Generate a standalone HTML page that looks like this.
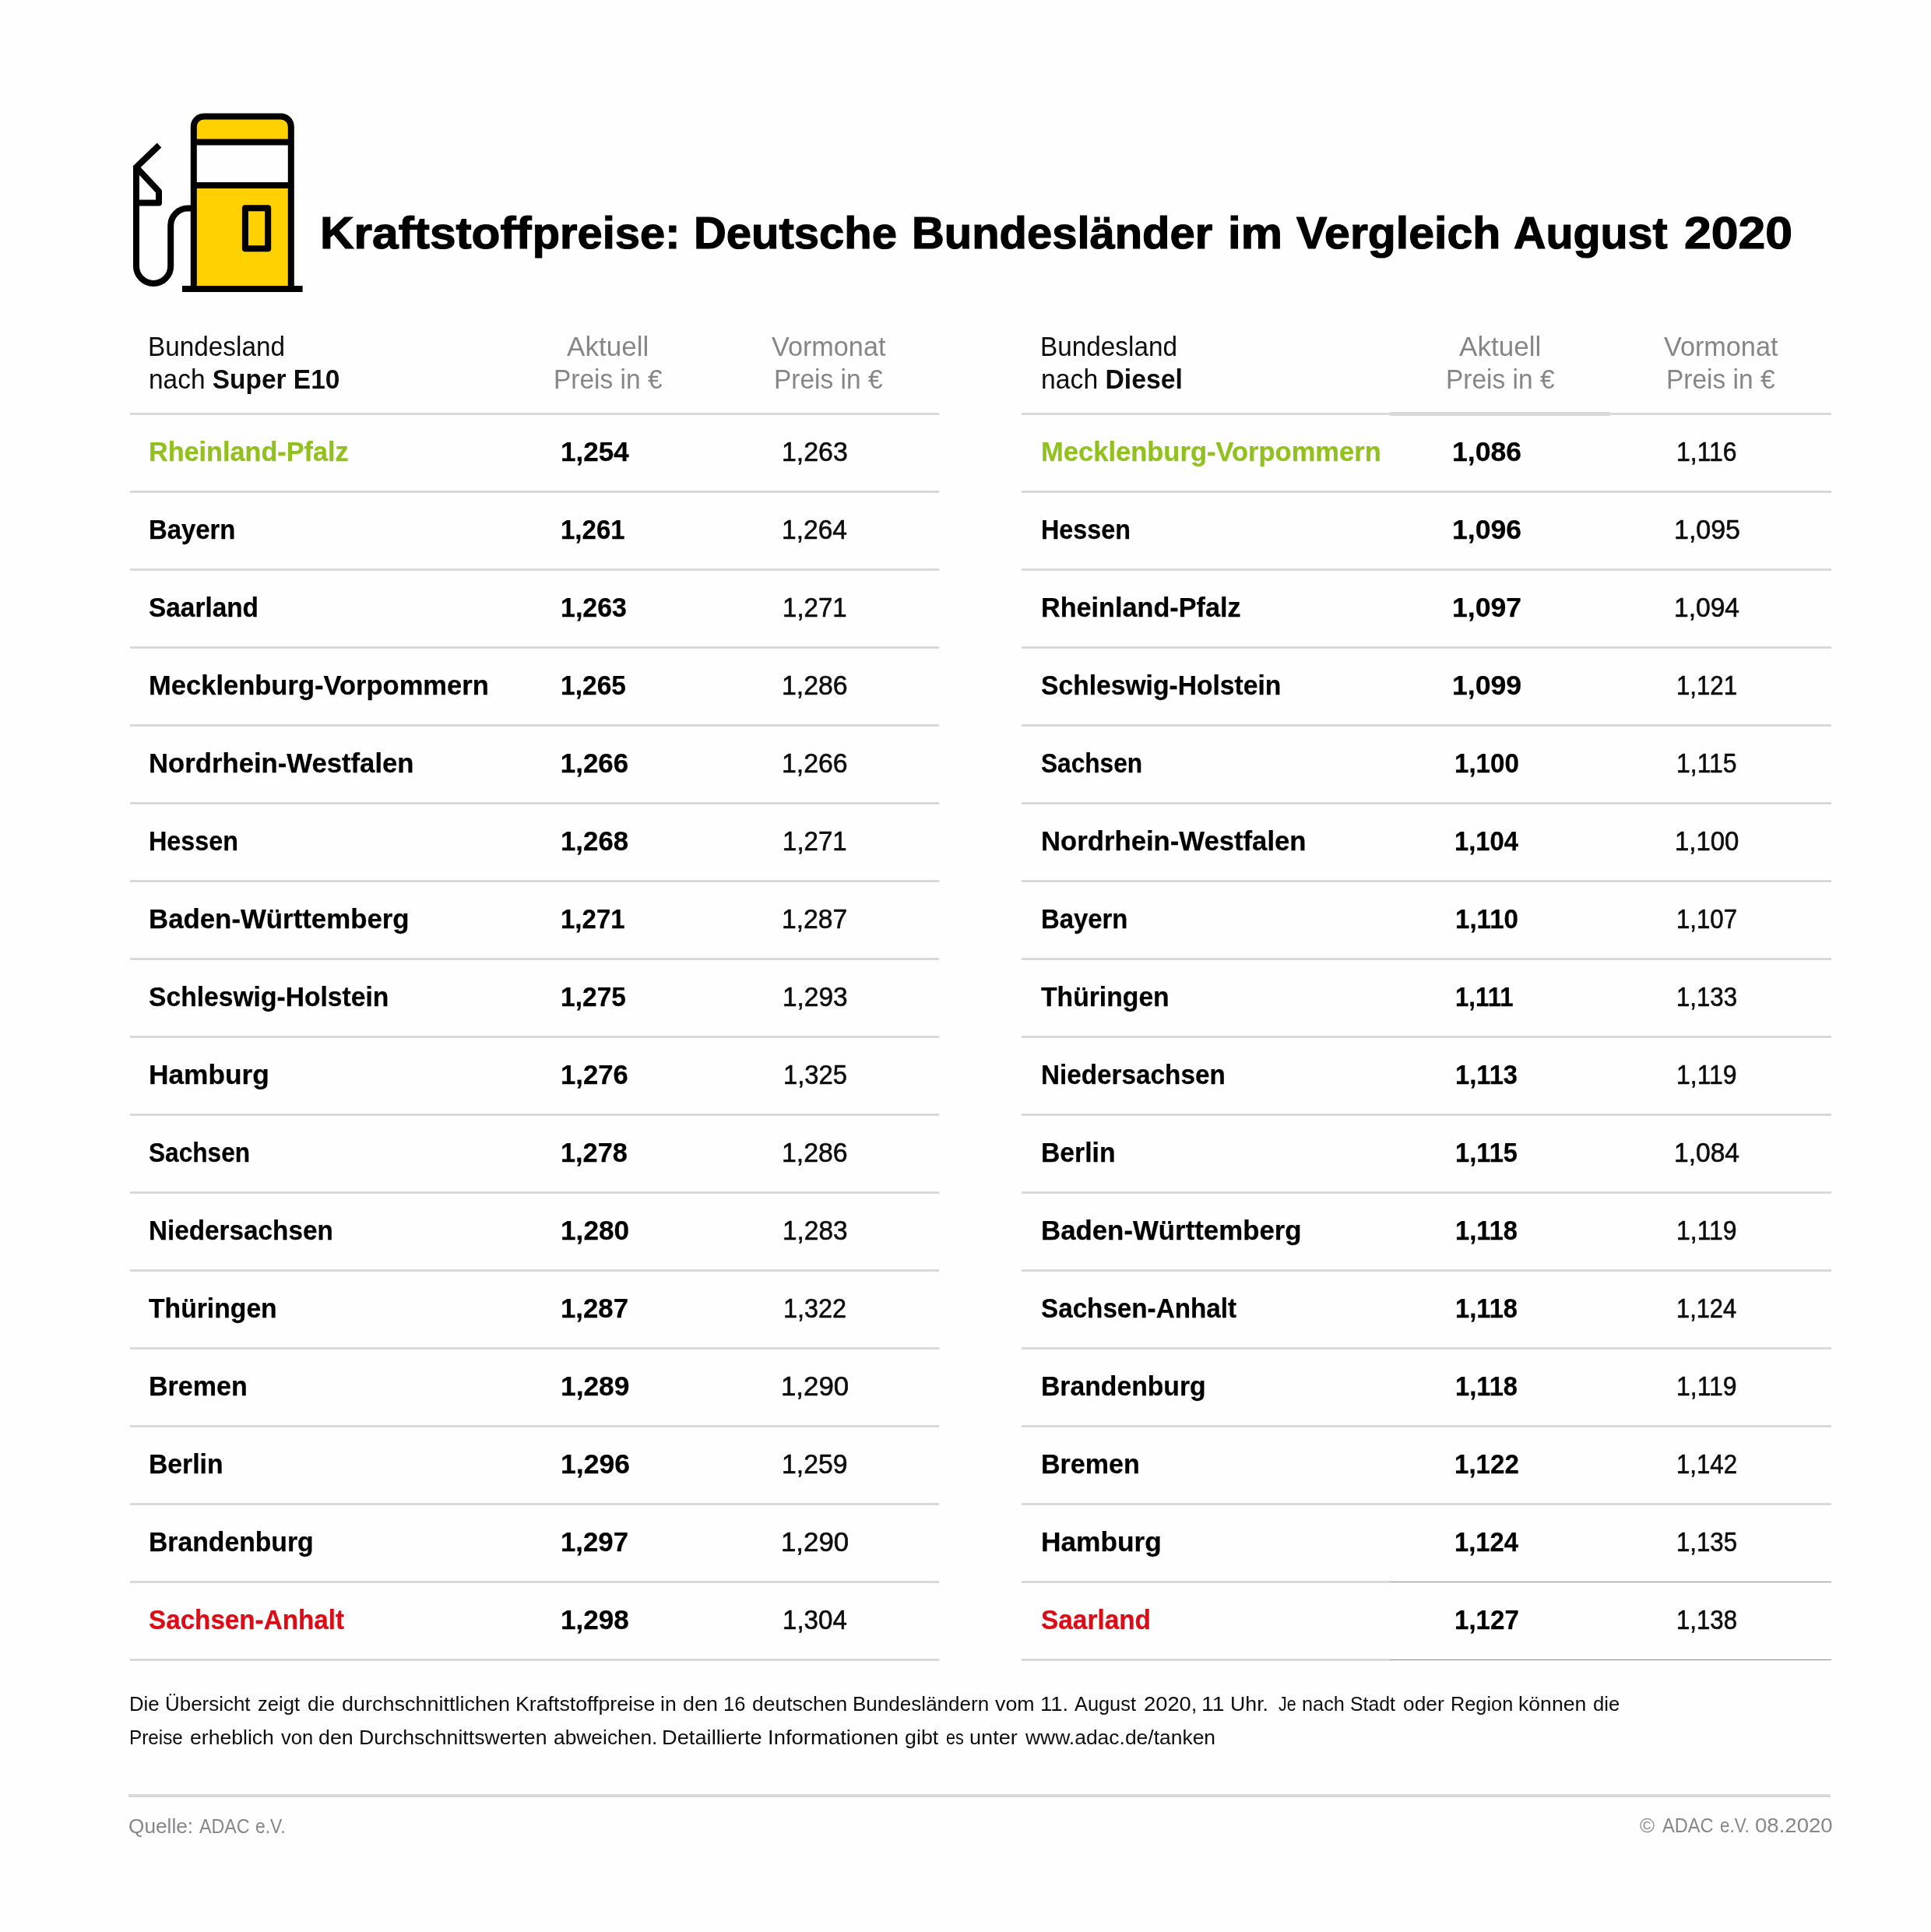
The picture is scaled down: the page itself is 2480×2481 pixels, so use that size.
<!DOCTYPE html>
<html lang="de"><head><meta charset="utf-8"><title>Kraftstoffpreise</title>
<style>
html,body{margin:0;padding:0;background:#fefefe}
body{width:2480px;height:2481px;position:relative;overflow:hidden;font-family:"Liberation Sans",sans-serif}
.t{position:absolute;white-space:nowrap;line-height:1;transform-origin:0 0}
.s35{font-size:35px}.s26{font-size:26px}.s58{font-size:58px}.s60{font-size:60px}
#tx{position:absolute;left:0;top:0;width:2480px;height:2481px;will-change:transform}
.b{font-weight:700}
.ln{position:absolute;height:3px;background:#d9d9d9}
.dk{position:absolute;height:1px;background:#8a8a8a}
</style></head><body>
<svg style="position:absolute;left:0;top:0" width="440" height="400" viewBox="0 0 440 400" fill="none" stroke="#000" stroke-width="8">
<path d="M248.8 371V162.5a13 13 0 0 1 13-13h99a13 13 0 0 1 13 13V371Z" fill="#ffd100" stroke="none"/>
<rect x="248.8" y="182.5" width="125" height="55.5" fill="#fefefe" stroke="none"/>
<path d="M248.8 371V162.5a13 13 0 0 1 13-13h99a13 13 0 0 1 13 13V371"/>
<path d="M248.8 182.5H373.8M248.8 238H373.8"/>
<path d="M234 371H388.6"/>
<rect x="314.9" y="267.2" width="29.3" height="52" stroke-linejoin="round"/>
<path d="M204.5 186.5L175 214.8V341.8a22.1 22.1 0 0 0 44.2 0V289.7a22.1 22.1 0 0 1 22.1-22.1H245" />
<path d="M175 214.8L204 245.8V260.6H175" stroke-linejoin="round"/>
</svg>

<div class="ln" style="left:166.7px;top:530px;width:1039.2px"></div>
<div class="ln" style="left:166.7px;top:630px;width:1039.2px"></div>
<div class="ln" style="left:166.7px;top:730px;width:1039.2px"></div>
<div class="ln" style="left:166.7px;top:830px;width:1039.2px"></div>
<div class="ln" style="left:166.7px;top:930px;width:1039.2px"></div>
<div class="ln" style="left:166.7px;top:1030px;width:1039.2px"></div>
<div class="ln" style="left:166.7px;top:1130px;width:1039.2px"></div>
<div class="ln" style="left:166.7px;top:1230px;width:1039.2px"></div>
<div class="ln" style="left:166.7px;top:1330px;width:1039.2px"></div>
<div class="ln" style="left:166.7px;top:1430px;width:1039.2px"></div>
<div class="ln" style="left:166.7px;top:1530px;width:1039.2px"></div>
<div class="ln" style="left:166.7px;top:1630px;width:1039.2px"></div>
<div class="ln" style="left:166.7px;top:1730px;width:1039.2px"></div>
<div class="ln" style="left:166.7px;top:1830px;width:1039.2px"></div>
<div class="ln" style="left:166.7px;top:1930px;width:1039.2px"></div>
<div class="ln" style="left:166.7px;top:2030px;width:1039.2px"></div>
<div class="ln" style="left:166.7px;top:2130px;width:1039.2px"></div>
<div class="ln" style="left:1312.2px;top:530px;width:1039.4px"></div>
<div class="ln" style="left:1312.2px;top:630px;width:1039.4px"></div>
<div class="ln" style="left:1312.2px;top:730px;width:1039.4px"></div>
<div class="ln" style="left:1312.2px;top:830px;width:1039.4px"></div>
<div class="ln" style="left:1312.2px;top:930px;width:1039.4px"></div>
<div class="ln" style="left:1312.2px;top:1030px;width:1039.4px"></div>
<div class="ln" style="left:1312.2px;top:1130px;width:1039.4px"></div>
<div class="ln" style="left:1312.2px;top:1230px;width:1039.4px"></div>
<div class="ln" style="left:1312.2px;top:1330px;width:1039.4px"></div>
<div class="ln" style="left:1312.2px;top:1430px;width:1039.4px"></div>
<div class="ln" style="left:1312.2px;top:1530px;width:1039.4px"></div>
<div class="ln" style="left:1312.2px;top:1630px;width:1039.4px"></div>
<div class="ln" style="left:1312.2px;top:1730px;width:1039.4px"></div>
<div class="ln" style="left:1312.2px;top:1830px;width:1039.4px"></div>
<div class="ln" style="left:1312.2px;top:1930px;width:1039.4px"></div>
<div class="ln" style="left:1312.2px;top:2030px;width:1039.4px"></div>
<div class="ln" style="left:1312.2px;top:2130px;width:1039.4px"></div>
<div class="ln" style="left:1784.5px;top:529px;width:283.5px;height:5px"></div>
<div style="position:absolute;left:1784.5px;top:2030px;width:568px;height:3px;background:#fefefe"></div>
<div class="dk" style="left:1784.5px;top:2031px;width:567.5px"></div>
<div style="position:absolute;left:1784.5px;top:2130px;width:568px;height:3px;background:#fefefe"></div>
<div class="dk" style="left:1784.5px;top:2131px;width:567.5px"></div>
<div class="ln" style="left:165px;top:2304px;width:2186px;height:4px"></div>
<div id="tx">
<div class="t s58 b" style="left:411.0px;top:269.8px;color:#000;transform:scaleX(1.0409);-webkit-text-stroke:1.2px #000">Kraftstoff<span style="display:inline-block;transform-origin:0 0;transform:scaleX(0.9581);margin-left:1.00px">preise:</span></div>
<div class="t s58 b" style="left:891.0px;top:269.8px;color:#000;transform:scaleX(0.9996);-webkit-text-stroke:1.2px #000">Deutsche</div>
<div class="t s58 b" style="left:1171.0px;top:269.8px;color:#000;transform:scaleX(0.9987);-webkit-text-stroke:1.2px #000">Bundesländer</div>
<div class="t s58 b" style="left:1577.2px;top:269.8px;color:#000;transform:scaleX(1.0323);-webkit-text-stroke:1.2px #000">im</div>
<div class="t s58 b" style="left:1665.1px;top:269.8px;color:#000;transform:scaleX(1.0169);-webkit-text-stroke:1.2px #000">Vergleich</div>
<div class="t s58 b" style="left:1944.2px;top:269.8px;color:#000;transform:scaleX(0.9889);-webkit-text-stroke:1.2px #000">August</div>
<div class="t s58 b" style="left:2162.8px;top:269.8px;color:#000;transform:scaleX(1.0778);-webkit-text-stroke:1.2px #000">2020</div>
<div class="t s35" style="left:190.2px;top:426.9px;color:#0d0d0d;transform:scaleX(0.9522)">Bundesland</div>
<div class="t s35" style="left:191.0px;top:468.9px;color:#0d0d0d;transform:scaleX(0.9553)">nach <b>Super E10</b></div>
<div class="t s35" style="left:727.8px;top:426.9px;color:#868686;transform:scaleX(1.0019)">Aktuell</div>
<div class="t s35" style="left:711.2px;top:468.9px;color:#868686;transform:scaleX(0.9563)">Preis in €</div>
<div class="t s35" style="left:990.6px;top:426.9px;color:#868686;transform:scaleX(0.9773)">Vormonat</div>
<div class="t s35" style="left:994.2px;top:468.9px;color:#868686;transform:scaleX(0.9563)">Preis in €</div>
<div class="t s35" style="left:1336.2px;top:426.9px;color:#0d0d0d;transform:scaleX(0.9522)">Bundesland</div>
<div class="t s35" style="left:1337.0px;top:468.9px;color:#0d0d0d;transform:scaleX(0.9636)">nach <b>Diesel</b></div>
<div class="t s35" style="left:1873.8px;top:426.9px;color:#868686;transform:scaleX(1.0019)">Aktuell</div>
<div class="t s35" style="left:1857.2px;top:468.9px;color:#868686;transform:scaleX(0.9563)">Preis in €</div>
<div class="t s35" style="left:2136.6px;top:426.9px;color:#868686;transform:scaleX(0.9773)">Vormonat</div>
<div class="t s35" style="left:2140.2px;top:468.9px;color:#868686;transform:scaleX(0.9563)">Preis in €</div>
<div class="t s35 b" style="left:191.0px;top:561.9px;color:#92c01f;transform:scaleX(0.9772);-webkit-text-stroke:0.25px #92c01f">Rheinland-Pfalz</div>
<div class="t s35 b" style="left:719.7px;top:561.9px;color:#000;transform:scaleX(1.0024);-webkit-text-stroke:0.25px #000">1,254</div>
<div class="t s35" style="left:1004.1px;top:561.9px;color:#0d0d0d;transform:scaleX(0.9679);-webkit-text-stroke:0.6px #0d0d0d">1,263</div>
<div class="t s35 b" style="left:191.1px;top:661.9px;color:#000;transform:scaleX(0.9391);-webkit-text-stroke:0.25px #000">Bayern</div>
<div class="t s35 b" style="left:719.8px;top:661.9px;color:#000;transform:scaleX(0.9435);-webkit-text-stroke:0.25px #000">1,261</div>
<div class="t s35" style="left:1004.0px;top:661.9px;color:#0d0d0d;transform:scaleX(0.9588);-webkit-text-stroke:0.6px #0d0d0d">1,264</div>
<div class="t s35 b" style="left:190.9px;top:761.9px;color:#000;transform:scaleX(0.9538);-webkit-text-stroke:0.25px #000">Saarland</div>
<div class="t s35 b" style="left:719.8px;top:761.9px;color:#000;transform:scaleX(0.9702);-webkit-text-stroke:0.25px #000">1,263</div>
<div class="t s35" style="left:1005.2px;top:761.9px;color:#0d0d0d;transform:scaleX(0.9440);-webkit-text-stroke:0.6px #0d0d0d">1,271</div>
<div class="t s35 b" style="left:191.0px;top:861.9px;color:#000;transform:scaleX(0.9866);-webkit-text-stroke:0.25px #000">Mecklenburg-Vorpommern</div>
<div class="t s35 b" style="left:719.8px;top:861.9px;color:#000;transform:scaleX(0.9588);-webkit-text-stroke:0.25px #000">1,265</div>
<div class="t s35" style="left:1004.2px;top:861.9px;color:#0d0d0d;transform:scaleX(0.9667);-webkit-text-stroke:0.6px #0d0d0d">1,286</div>
<div class="t s35 b" style="left:191.0px;top:961.9px;color:#000;transform:scaleX(0.9912);-webkit-text-stroke:0.25px #000">Nordrhein-Westfalen</div>
<div class="t s35 b" style="left:719.7px;top:961.9px;color:#000;transform:scaleX(1.0000);-webkit-text-stroke:0.25px #000">1,266</div>
<div class="t s35" style="left:1004.2px;top:961.9px;color:#0d0d0d;transform:scaleX(0.9667);-webkit-text-stroke:0.6px #0d0d0d">1,266</div>
<div class="t s35 b" style="left:191.2px;top:1061.8px;color:#000;transform:scaleX(0.9231);-webkit-text-stroke:0.25px #000">Hessen</div>
<div class="t s35 b" style="left:719.7px;top:1061.8px;color:#000;transform:scaleX(0.9953);-webkit-text-stroke:0.25px #000">1,268</div>
<div class="t s35" style="left:1005.2px;top:1061.8px;color:#0d0d0d;transform:scaleX(0.9440);-webkit-text-stroke:0.6px #0d0d0d">1,271</div>
<div class="t s35 b" style="left:191.0px;top:1161.8px;color:#000;transform:scaleX(0.9946);-webkit-text-stroke:0.25px #000">Baden-Württemberg</div>
<div class="t s35 b" style="left:719.8px;top:1161.8px;color:#000;transform:scaleX(0.9435);-webkit-text-stroke:0.25px #000">1,271</div>
<div class="t s35" style="left:1004.4px;top:1161.8px;color:#0d0d0d;transform:scaleX(0.9619);-webkit-text-stroke:0.6px #0d0d0d">1,287</div>
<div class="t s35 b" style="left:190.9px;top:1261.8px;color:#000;transform:scaleX(0.9607);-webkit-text-stroke:0.25px #000">Schleswig-Holstein</div>
<div class="t s35 b" style="left:719.8px;top:1261.8px;color:#000;transform:scaleX(0.9588);-webkit-text-stroke:0.25px #000">1,275</div>
<div class="t s35" style="left:1004.7px;top:1261.8px;color:#0d0d0d;transform:scaleX(0.9548);-webkit-text-stroke:0.6px #0d0d0d">1,293</div>
<div class="t s35 b" style="left:191.0px;top:1361.8px;color:#000;transform:scaleX(1.0080);-webkit-text-stroke:0.25px #000">Hamburg</div>
<div class="t s35 b" style="left:719.7px;top:1361.8px;color:#000;transform:scaleX(0.9917);-webkit-text-stroke:0.25px #000">1,276</div>
<div class="t s35" style="left:1005.5px;top:1361.8px;color:#0d0d0d;transform:scaleX(0.9369);-webkit-text-stroke:0.6px #0d0d0d">1,325</div>
<div class="t s35 b" style="left:191.0px;top:1461.8px;color:#000;transform:scaleX(0.9035);-webkit-text-stroke:0.25px #000">Sachsen</div>
<div class="t s35 b" style="left:719.7px;top:1461.8px;color:#000;transform:scaleX(0.9800);-webkit-text-stroke:0.25px #000">1,278</div>
<div class="t s35" style="left:1004.2px;top:1461.8px;color:#0d0d0d;transform:scaleX(0.9667);-webkit-text-stroke:0.6px #0d0d0d">1,286</div>
<div class="t s35 b" style="left:191.1px;top:1561.8px;color:#000;transform:scaleX(0.9506);-webkit-text-stroke:0.25px #000">Niedersachsen</div>
<div class="t s35 b" style="left:719.7px;top:1561.8px;color:#000;transform:scaleX(1.0071);-webkit-text-stroke:0.25px #000">1,280</div>
<div class="t s35" style="left:1004.7px;top:1561.8px;color:#0d0d0d;transform:scaleX(0.9548);-webkit-text-stroke:0.6px #0d0d0d">1,283</div>
<div class="t s35 b" style="left:190.8px;top:1661.8px;color:#000;transform:scaleX(0.9627);-webkit-text-stroke:0.25px #000">Thüringen</div>
<div class="t s35 b" style="left:719.7px;top:1661.8px;color:#000;transform:scaleX(0.9940);-webkit-text-stroke:0.25px #000">1,287</div>
<div class="t s35" style="left:1006.1px;top:1661.8px;color:#0d0d0d;transform:scaleX(0.9238);-webkit-text-stroke:0.6px #0d0d0d">1,322</div>
<div class="t s35 b" style="left:191.1px;top:1761.8px;color:#000;transform:scaleX(0.9730);-webkit-text-stroke:0.25px #000">Bremen</div>
<div class="t s35 b" style="left:719.7px;top:1761.8px;color:#000;transform:scaleX(1.0095);-webkit-text-stroke:0.25px #000">1,289</div>
<div class="t s35" style="left:1002.9px;top:1761.8px;color:#0d0d0d;transform:scaleX(0.9952);-webkit-text-stroke:0.6px #0d0d0d">1,290</div>
<div class="t s35 b" style="left:191.1px;top:1861.8px;color:#000;transform:scaleX(0.9632);-webkit-text-stroke:0.25px #000">Berlin</div>
<div class="t s35 b" style="left:719.7px;top:1861.8px;color:#000;transform:scaleX(1.0155);-webkit-text-stroke:0.25px #000">1,296</div>
<div class="t s35" style="left:1004.3px;top:1861.8px;color:#0d0d0d;transform:scaleX(0.9643);-webkit-text-stroke:0.6px #0d0d0d">1,259</div>
<div class="t s35 b" style="left:191.1px;top:1961.8px;color:#000;transform:scaleX(0.9634);-webkit-text-stroke:0.25px #000">Brandenburg</div>
<div class="t s35 b" style="left:719.7px;top:1961.8px;color:#000;transform:scaleX(0.9940);-webkit-text-stroke:0.25px #000">1,297</div>
<div class="t s35" style="left:1002.9px;top:1961.8px;color:#0d0d0d;transform:scaleX(0.9952);-webkit-text-stroke:0.6px #0d0d0d">1,290</div>
<div class="t s35 b" style="left:191.0px;top:2061.8px;color:#dc0b15;transform:scaleX(0.9490);-webkit-text-stroke:0.25px #dc0b15">Sachsen-Anhalt</div>
<div class="t s35 b" style="left:719.7px;top:2061.8px;color:#000;transform:scaleX(1.0035);-webkit-text-stroke:0.25px #000">1,298</div>
<div class="t s35" style="left:1004.6px;top:2061.8px;color:#0d0d0d;transform:scaleX(0.9459);-webkit-text-stroke:0.6px #0d0d0d">1,304</div>
<div class="t s35 b" style="left:1337.0px;top:561.9px;color:#92c01f;transform:scaleX(0.9866);-webkit-text-stroke:0.25px #92c01f">Mecklenburg-Vorpommern</div>
<div class="t s35 b" style="left:1864.7px;top:561.9px;color:#000;transform:scaleX(1.0179);-webkit-text-stroke:0.25px #000">1,086</div>
<div class="t s35" style="left:2153.2px;top:561.9px;color:#0d0d0d;transform:scaleX(0.9122);-webkit-text-stroke:0.6px #0d0d0d">1,116</div>
<div class="t s35 b" style="left:1337.2px;top:661.9px;color:#000;transform:scaleX(0.9231);-webkit-text-stroke:0.25px #000">Hessen</div>
<div class="t s35 b" style="left:1864.7px;top:661.9px;color:#000;transform:scaleX(1.0179);-webkit-text-stroke:0.25px #000">1,096</div>
<div class="t s35" style="left:2149.9px;top:661.9px;color:#0d0d0d;transform:scaleX(0.9702);-webkit-text-stroke:0.6px #0d0d0d">1,095</div>
<div class="t s35 b" style="left:1337.0px;top:761.9px;color:#000;transform:scaleX(0.9772);-webkit-text-stroke:0.25px #000">Rheinland-Pfalz</div>
<div class="t s35 b" style="left:1864.7px;top:761.9px;color:#000;transform:scaleX(1.0179);-webkit-text-stroke:0.25px #000">1,097</div>
<div class="t s35" style="left:2149.9px;top:761.9px;color:#0d0d0d;transform:scaleX(0.9588);-webkit-text-stroke:0.6px #0d0d0d">1,094</div>
<div class="t s35 b" style="left:1336.9px;top:861.9px;color:#000;transform:scaleX(0.9607);-webkit-text-stroke:0.25px #000">Schleswig-Holstein</div>
<div class="t s35 b" style="left:1864.7px;top:861.9px;color:#000;transform:scaleX(1.0179);-webkit-text-stroke:0.25px #000">1,099</div>
<div class="t s35" style="left:2153.2px;top:861.9px;color:#0d0d0d;transform:scaleX(0.8905);-webkit-text-stroke:0.6px #0d0d0d">1,121</div>
<div class="t s35 b" style="left:1337.0px;top:961.9px;color:#000;transform:scaleX(0.9035);-webkit-text-stroke:0.25px #000">Sachsen</div>
<div class="t s35 b" style="left:1867.6px;top:961.9px;color:#000;transform:scaleX(0.9464);-webkit-text-stroke:0.25px #000">1,100</div>
<div class="t s35" style="left:2153.2px;top:961.9px;color:#0d0d0d;transform:scaleX(0.9122);-webkit-text-stroke:0.6px #0d0d0d">1,115</div>
<div class="t s35 b" style="left:1337.0px;top:1061.8px;color:#000;transform:scaleX(0.9912);-webkit-text-stroke:0.25px #000">Nordrhein-Westfalen</div>
<div class="t s35 b" style="left:1867.6px;top:1061.8px;color:#000;transform:scaleX(0.9353);-webkit-text-stroke:0.25px #000">1,104</div>
<div class="t s35" style="left:2151.0px;top:1061.8px;color:#0d0d0d;transform:scaleX(0.9405);-webkit-text-stroke:0.6px #0d0d0d">1,100</div>
<div class="t s35 b" style="left:1337.1px;top:1161.8px;color:#000;transform:scaleX(0.9391);-webkit-text-stroke:0.25px #000">Bayern</div>
<div class="t s35 b" style="left:1868.7px;top:1161.8px;color:#000;transform:scaleX(0.9451);-webkit-text-stroke:0.25px #000">1,110</div>
<div class="t s35" style="left:2153.2px;top:1161.8px;color:#0d0d0d;transform:scaleX(0.8905);-webkit-text-stroke:0.6px #0d0d0d">1,107</div>
<div class="t s35 b" style="left:1336.8px;top:1261.8px;color:#000;transform:scaleX(0.9627);-webkit-text-stroke:0.25px #000">Thüringen</div>
<div class="t s35 b" style="left:1869.1px;top:1261.8px;color:#000;transform:scaleX(0.8914);-webkit-text-stroke:0.25px #000">1,111</div>
<div class="t s35" style="left:2153.2px;top:1261.8px;color:#0d0d0d;transform:scaleX(0.8905);-webkit-text-stroke:0.6px #0d0d0d">1,133</div>
<div class="t s35 b" style="left:1337.1px;top:1361.8px;color:#000;transform:scaleX(0.9506);-webkit-text-stroke:0.25px #000">Niedersachsen</div>
<div class="t s35 b" style="left:1868.7px;top:1361.8px;color:#000;transform:scaleX(0.9337);-webkit-text-stroke:0.25px #000">1,113</div>
<div class="t s35" style="left:2153.2px;top:1361.8px;color:#0d0d0d;transform:scaleX(0.9122);-webkit-text-stroke:0.6px #0d0d0d">1,119</div>
<div class="t s35 b" style="left:1337.1px;top:1461.8px;color:#000;transform:scaleX(0.9632);-webkit-text-stroke:0.25px #000">Berlin</div>
<div class="t s35 b" style="left:1868.7px;top:1461.8px;color:#000;transform:scaleX(0.9337);-webkit-text-stroke:0.25px #000">1,115</div>
<div class="t s35" style="left:2149.9px;top:1461.8px;color:#0d0d0d;transform:scaleX(0.9588);-webkit-text-stroke:0.6px #0d0d0d">1,084</div>
<div class="t s35 b" style="left:1337.0px;top:1561.8px;color:#000;transform:scaleX(0.9946);-webkit-text-stroke:0.25px #000">Baden-Württemberg</div>
<div class="t s35 b" style="left:1868.7px;top:1561.8px;color:#000;transform:scaleX(0.9337);-webkit-text-stroke:0.25px #000">1,118</div>
<div class="t s35" style="left:2153.2px;top:1561.8px;color:#0d0d0d;transform:scaleX(0.9122);-webkit-text-stroke:0.6px #0d0d0d">1,119</div>
<div class="t s35 b" style="left:1337.0px;top:1661.8px;color:#000;transform:scaleX(0.9490);-webkit-text-stroke:0.25px #000">Sachsen-Anhalt</div>
<div class="t s35 b" style="left:1868.7px;top:1661.8px;color:#000;transform:scaleX(0.9337);-webkit-text-stroke:0.25px #000">1,118</div>
<div class="t s35" style="left:2153.2px;top:1661.8px;color:#0d0d0d;transform:scaleX(0.8800);-webkit-text-stroke:0.6px #0d0d0d">1,124</div>
<div class="t s35 b" style="left:1337.1px;top:1761.8px;color:#000;transform:scaleX(0.9634);-webkit-text-stroke:0.25px #000">Brandenburg</div>
<div class="t s35 b" style="left:1868.7px;top:1761.8px;color:#000;transform:scaleX(0.9337);-webkit-text-stroke:0.25px #000">1,118</div>
<div class="t s35" style="left:2153.2px;top:1761.8px;color:#0d0d0d;transform:scaleX(0.9122);-webkit-text-stroke:0.6px #0d0d0d">1,119</div>
<div class="t s35 b" style="left:1337.1px;top:1861.8px;color:#000;transform:scaleX(0.9730);-webkit-text-stroke:0.25px #000">Bremen</div>
<div class="t s35 b" style="left:1867.6px;top:1861.8px;color:#000;transform:scaleX(0.9464);-webkit-text-stroke:0.25px #000">1,122</div>
<div class="t s35" style="left:2153.2px;top:1861.8px;color:#0d0d0d;transform:scaleX(0.8905);-webkit-text-stroke:0.6px #0d0d0d">1,142</div>
<div class="t s35 b" style="left:1337.0px;top:1961.8px;color:#000;transform:scaleX(1.0080);-webkit-text-stroke:0.25px #000">Hamburg</div>
<div class="t s35 b" style="left:1867.6px;top:1961.8px;color:#000;transform:scaleX(0.9353);-webkit-text-stroke:0.25px #000">1,124</div>
<div class="t s35" style="left:2153.2px;top:1961.8px;color:#0d0d0d;transform:scaleX(0.8905);-webkit-text-stroke:0.6px #0d0d0d">1,135</div>
<div class="t s35 b" style="left:1336.9px;top:2061.8px;color:#dc0b15;transform:scaleX(0.9538);-webkit-text-stroke:0.25px #dc0b15">Saarland</div>
<div class="t s35 b" style="left:1867.6px;top:2061.8px;color:#000;transform:scaleX(0.9464);-webkit-text-stroke:0.25px #000">1,127</div>
<div class="t s35" style="left:2153.2px;top:2061.8px;color:#0d0d0d;transform:scaleX(0.8905);-webkit-text-stroke:0.6px #0d0d0d">1,138</div>
<div class="t s26" style="left:165.9px;top:2174.9px;color:#0d0d0d;transform:scaleX(0.9889)">Die</div>
<div class="t s26" style="left:212.0px;top:2174.9px;color:#0d0d0d;transform:scaleX(0.9972)">Übersicht</div>
<div class="t s26" style="left:331.2px;top:2174.9px;color:#0d0d0d;transform:scaleX(0.9833)">zeigt</div>
<div class="t s26" style="left:394.8px;top:2174.9px;color:#0d0d0d;transform:scaleX(1.0091)">die</div>
<div class="t s26" style="left:438.6px;top:2174.9px;color:#0d0d0d;transform:scaleX(1.0374)">durchschnittlichen</div>
<div class="t s26" style="left:661.7px;top:2174.9px;color:#0d0d0d;transform:scaleX(1.0281)">Kraftstoffpreise</div>
<div class="t s26" style="left:848.1px;top:2174.9px;color:#0d0d0d;transform:scaleX(1.0235)">in</div>
<div class="t s26" style="left:877.0px;top:2174.9px;color:#0d0d0d;transform:scaleX(1.0341)">den</div>
<div class="t s26" style="left:928.9px;top:2174.9px;color:#0d0d0d;transform:scaleX(0.9808)">16</div>
<div class="t s26" style="left:965.9px;top:2174.9px;color:#0d0d0d;transform:scaleX(1.0179)">deutschen</div>
<div class="t s26" style="left:1094.5px;top:2174.9px;color:#0d0d0d;transform:scaleX(1.0018)">Bundesländern</div>
<div class="t s26" style="left:1278.3px;top:2174.9px;color:#0d0d0d;transform:scaleX(1.0292)">vom</div>
<div class="t s26" style="left:1336.1px;top:2174.9px;color:#0d0d0d;transform:scaleX(1.0567)">11.</div>
<div class="t s26" style="left:1380.4px;top:2174.9px;color:#0d0d0d;transform:scaleX(0.9753)">August</div>
<div class="t s26" style="left:1468.8px;top:2174.9px;color:#0d0d0d;transform:scaleX(1.0516)">2020,</div>
<div class="t s26" style="left:1543.4px;top:2174.9px;color:#0d0d0d;transform:scaleX(1.0900)">11</div>
<div class="t s26" style="left:1580.4px;top:2174.9px;color:#0d0d0d;transform:scaleX(1.0279)">Uhr.</div>
<div class="t s26" style="left:1641.9px;top:2174.9px;color:#0d0d0d;transform:scaleX(0.8240)">Je</div>
<div class="t s26" style="left:1671.9px;top:2174.9px;color:#0d0d0d;transform:scaleX(0.9736)">nach</div>
<div class="t s26" style="left:1734.0px;top:2174.9px;color:#0d0d0d;transform:scaleX(0.9542)">Stadt</div>
<div class="t s26" style="left:1801.7px;top:2174.9px;color:#0d0d0d;transform:scaleX(1.0118)">oder</div>
<div class="t s26" style="left:1862.9px;top:2174.9px;color:#0d0d0d;transform:scaleX(0.9734)">Region</div>
<div class="t s26" style="left:1950.2px;top:2174.9px;color:#0d0d0d;transform:scaleX(1.0232)">können</div>
<div class="t s26" style="left:2045.6px;top:2174.9px;color:#0d0d0d;transform:scaleX(0.9848)">die</div>
<div class="t s26" style="left:166.0px;top:2218.0px;color:#0d0d0d;transform:scaleX(0.9338)">Preise</div>
<div class="t s26" style="left:243.7px;top:2218.0px;color:#0d0d0d;transform:scaleX(1.0223)">erheblich</div>
<div class="t s26" style="left:360.5px;top:2218.0px;color:#0d0d0d;transform:scaleX(0.9825)">von</div>
<div class="t s26" style="left:409.3px;top:2218.0px;color:#0d0d0d;transform:scaleX(1.0317)">den</div>
<div class="t s26" style="left:461.0px;top:2218.0px;color:#0d0d0d;transform:scaleX(1.0254)">Durchschnittswerten</div>
<div class="t s26" style="left:710.5px;top:2218.0px;color:#0d0d0d;transform:scaleX(1.0141)">abweichen.</div>
<div class="t s26" style="left:849.7px;top:2218.0px;color:#0d0d0d;transform:scaleX(1.0483)">Detaillierte</div>
<div class="t s26" style="left:986.0px;top:2218.0px;color:#0d0d0d;transform:scaleX(1.0574)">Informationen</div>
<div class="t s26" style="left:1161.5px;top:2218.0px;color:#0d0d0d;transform:scaleX(1.0317)">gibt</div>
<div class="t s26" style="left:1214.5px;top:2218.0px;color:#0d0d0d;transform:scaleX(0.8269)">es</div>
<div class="t s26" style="left:1245.2px;top:2218.0px;color:#0d0d0d;transform:scaleX(1.0439)">unter</div>
<div class="t s26" style="left:1317.3px;top:2218.0px;color:#0d0d0d;transform:scaleX(1.0172)">www.adac.de/tanken</div>
<div class="t s26" style="left:164.8px;top:2331.8px;color:#85878a;transform:scaleX(1.0089)">Quelle:</div>
<div class="t s26" style="left:255.8px;top:2331.8px;color:#85878a;transform:scaleX(0.8944)">ADAC</div>
<div class="t s26" style="left:328.2px;top:2331.8px;color:#85878a;transform:scaleX(0.8805)">e.V.</div>
<div class="t s26" style="left:2106.2px;top:2330.9px;color:#85878a;transform:scaleX(0.9895)">©</div>
<div class="t s26" style="left:2135.2px;top:2330.9px;color:#85878a;transform:scaleX(0.9070)">ADAC</div>
<div class="t s26" style="left:2208.5px;top:2330.9px;color:#85878a;transform:scaleX(0.8610)">e.V.</div>
<div class="t s26" style="left:2253.7px;top:2330.9px;color:#85878a;transform:scaleX(1.0598)">08.2020</div>
</div></body></html>
